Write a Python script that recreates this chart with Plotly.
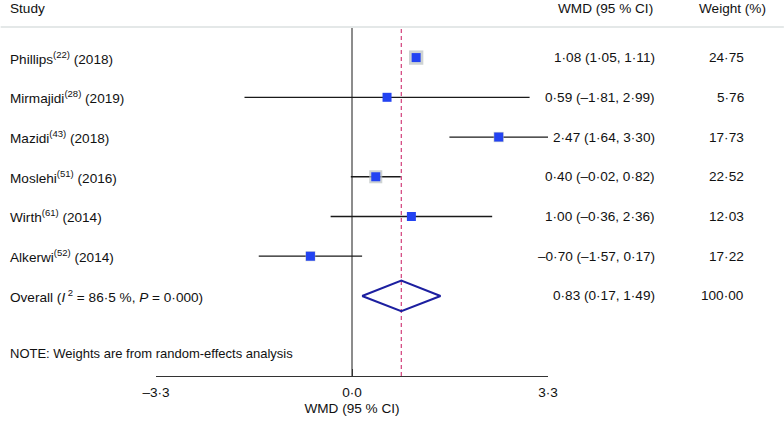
import plotly.graph_objects as go

studies = ["Phillips<sup>(22)</sup> (2018)", "Mirmajidi<sup>(28)</sup> (2019)",
           "Mazidi<sup>(43)</sup> (2018)", "Moslehi<sup>(51)</sup> (2016)",
           "Wirth<sup>(61)</sup> (2014)", "Alkerwi<sup>(52)</sup> (2014)"]
wmd = [1.08, 0.59, 2.47, 0.40, 1.00, -0.70]
ci_low = [1.05, -1.81, 1.64, -0.02, -0.36, -1.57]
ci_high = [1.11, 2.99, 3.30, 0.82, 2.36, 0.17]
weights = [24.75, 5.76, 17.73, 22.52, 12.03, 17.22]

overall_label = "Overall (<i>I</i><sup> 2</sup> = 86·5 %, <i>P</i> = 0·000)"
overall = 0.83
overall_low = 0.17
overall_high = 1.49
overall_weight = 100.00

tick_vals = [-3.3, 0.0, 3.3]
tick_text = ["–3·3", "0·0", "3·3"]
x_title = "WMD (95 % CI)"
note = "NOTE: Weights are from random-effects analysis"

FONT = "Liberation Sans, Arial, Helvetica, sans-serif"
FS = 13.6
W, H = 784, 426
L_PX, R_PX = 155.5, 547.9
TOP_PX, AX_PX = 28, 381
ROW0, ROWH = 17.7, 40.3


def fmt(v):
    return f"{v:.2f}".replace(".", "·").replace("-", "–")


def px_to_paper_x(px):
    return (px - L_PX) / (R_PX - L_PX)


def px_to_paper_y(py):
    return (AX_PX - py) / (AX_PX - TOP_PX)


rows = list(range(1, len(studies) + 1))
overall_row = len(studies) + 1

fig = go.Figure()

# CI lines
for r, lo, hi in zip(rows, ci_low, ci_high):
    fig.add_trace(go.Scatter(x=[lo, hi], y=[r, r], mode="lines",
                             line=dict(color="#1a1a1a", width=1.3),
                             hoverinfo="skip", showlegend=False))

# weight boxes
fig.add_trace(go.Scatter(x=wmd, y=rows, mode="markers",
                         marker=dict(symbol="square", size=[w * 0.58 for w in weights],
                                     color="#b9c1c1", line=dict(width=0)),
                         hoverinfo="skip", showlegend=False, cliponaxis=False))
# point estimates
fig.add_trace(go.Scatter(x=wmd, y=rows, mode="markers",
                         marker=dict(symbol="square", size=9, color="#2343f2",
                                     line=dict(width=0)),
                         showlegend=False, cliponaxis=False))

# overall diamond
hh = 0.385
fig.add_trace(go.Scatter(
    x=[overall_low, overall, overall_high, overall, overall_low],
    y=[overall_row, overall_row - hh, overall_row, overall_row + hh, overall_row],
    mode="lines", line=dict(color="#1c1fa0", width=2),
    hoverinfo="skip", showlegend=False))

shapes = [
    dict(type="line", xref="x", yref="paper", x0=0, x1=0, y0=0, y1=1,
         line=dict(color="#1a1a1a", width=1), layer="below"),
    dict(type="line", xref="x", yref="paper", x0=overall, x1=overall, y0=0, y1=1,
         line=dict(color="#d23f7a", width=1.2, dash="4px,3px"), layer="below"),
    dict(type="line", xref="paper", yref="paper",
         x0=px_to_paper_x(0), x1=px_to_paper_x(W),
         y0=px_to_paper_y(27), y1=px_to_paper_y(27),
         line=dict(color="#c9d1d1", width=1)),
]

ann = []


def add_text(text, x_px, y, anchor, yref="y", size=FS):
    ann.append(dict(text=text, x=px_to_paper_x(x_px), xref="paper", y=y, yref=yref,
                    xanchor=anchor, yanchor="middle", showarrow=False,
                    font=dict(family=FONT, size=size, color="#111")))


hdr_y = px_to_paper_y(8)
add_text("Study", 7, hdr_y, "left", "paper")
add_text("WMD (95 % CI)", 655, hdr_y, "right", "paper")
add_text("Weight (%)", 768, hdr_y, "right", "paper")

for r, s, e, lo, hi, w in zip(rows, studies, wmd, ci_low, ci_high, weights):
    add_text(s, 7, r, "left")
    add_text(f"{fmt(e)} ({fmt(lo)}, {fmt(hi)})", 657, r, "right")
    add_text(fmt(w), 746, r, "right")

add_text(overall_label, 7, overall_row, "left")
add_text(f"{fmt(overall)} ({fmt(overall_low)}, {fmt(overall_high)})", 657, overall_row, "right")
add_text(fmt(overall_weight), 746, overall_row, "right")

add_text(note, 7, px_to_paper_y(358), "left", "paper", size=13)

y_top = (TOP_PX - ROW0) / ROWH
y_bot = (AX_PX - ROW0) / ROWH

fig.update_layout(
    width=W, height=H,
    margin=dict(l=L_PX, r=W - R_PX, t=TOP_PX, b=H - AX_PX, pad=0),
    paper_bgcolor="white", plot_bgcolor="white",
    shapes=shapes, annotations=ann,
    font=dict(family=FONT, size=FS, color="#111"),
    xaxis=dict(range=[-3.3, 3.3], tickvals=tick_vals, ticktext=tick_text,
               showline=True, linecolor="#333", linewidth=1,
               ticks="inside", ticklen=7, tickcolor="#333", tickwidth=1,
               ticklabelstandoff=4,
               showgrid=False, zeroline=False, fixedrange=True,
               title=dict(text=x_title, standoff=4,
                          font=dict(family=FONT, size=FS, color="#111")),
               tickfont=dict(family=FONT, size=FS, color="#111")),
    yaxis=dict(range=[y_bot, y_top], visible=False, showgrid=False,
               zeroline=False, fixedrange=True),
    showlegend=False,
)

fig.write_html("out.html", config={"displayModeBar": False},
               post_script="document.body.style.margin='0';document.body.style.padding='0';")
